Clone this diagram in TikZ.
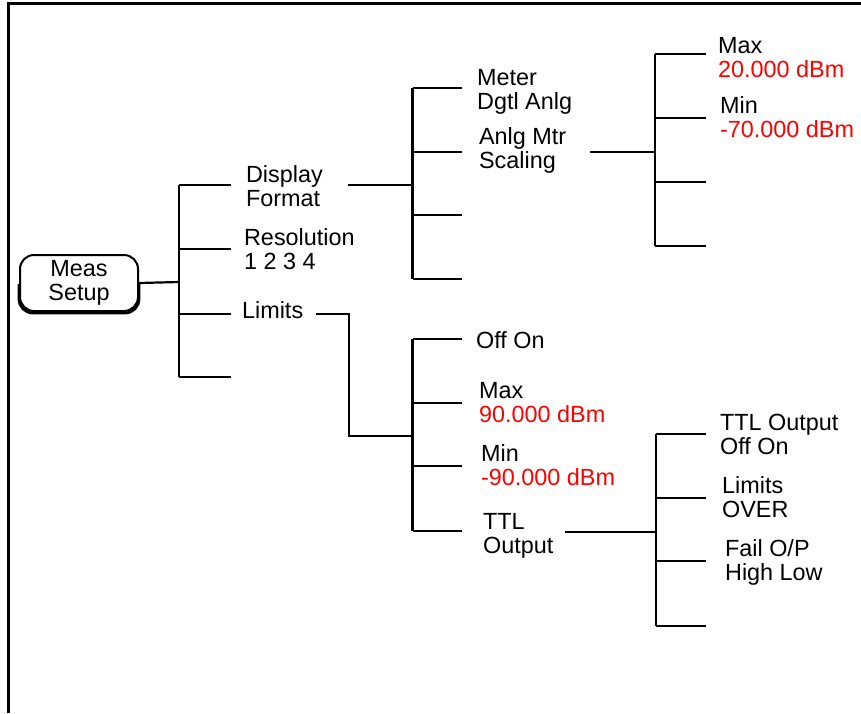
\documentclass[tikz,border=0pt]{standalone}
\usepackage{fontspec}
\setmainfont{Liberation Sans}
\usetikzlibrary{calc,positioning}

\tikzset{
  menulabel/.style={anchor=base west, inner sep=0pt, align=left,
    font=\fontsize{11.7}{12}\selectfont},
  softkey/.style={draw, line width=1pt, rounded corners=7pt,
    minimum width=59pt, minimum height=28pt, inner sep=0pt, align=center,
    font=\fontsize{11.7}{12}\selectfont},
}

\begin{document}
\begin{tikzpicture}[x=0.5pt, y=-0.5pt, line width=1.1pt]
  \useasboundingbox (0,0) rectangle (861,713);

  % Frame: top and left edges only
  \draw[line width=1.3pt] (8.5,713) -- (8.5,3.5) -- (861,3.5);

  % Meas Setup key, with a heavier lower rim
  \node[softkey] (meas) at (79,283) {Meas\\Setup};
  \draw[line width=1.4pt, rounded corners=7pt]
    ([yshift=-0.5pt]meas.west) |- ([yshift=-0.5pt]meas.south) -| ([yshift=-0.5pt]meas.east);

  % Joints between the levels
  \coordinate (stemA) at (179,282);
  \coordinate (dispout) at (348,185);
  \coordinate (stemB) at (412.5,185);
  \coordinate (scalout) at (590,152);
  \coordinate (stemC) at (655,152);
  \coordinate (limout) at (316,314);
  \coordinate (stemD) at (412.5,436);
  \coordinate (ttlout) at (565,532);
  \coordinate (stemE) at (656,532);

  % First level (labels sit on the baseline of their last line)
  \draw (meas.east) -- (stemA);
  \draw (179,185) -- (179,377);
  \foreach \y in {185,249,314,377}
    \draw (179,\y) -- (231,\y);
  \node[menulabel] (disp) at (245,206) {Display\\Format};
  \node[menulabel] (res) at (243,269) {Resolution\\1 2 3 4};
  \node[menulabel] (lim) at (241,318) {Limits};

  % Display Format branch
  \draw (dispout) -- (stemB);
  \draw (412.5,88) -- (412.5,279);
  \foreach \y in {88,152,215,279}
    \draw (412.5,\y) -- (462,\y);
  \node[menulabel] (meter) at (476,109) {Meter\\Dgtl Anlg};
  \node[menulabel] (scal) at (478,168) {Anlg Mtr\\Scaling};

  % Anlg Mtr Scaling branch
  \draw (scalout) -- (stemC);
  \draw (655,54) -- (655,246);
  \foreach \y in {54,118,182,246}
    \draw (655,\y) -- (706,\y);
  \node[menulabel] (maxA) at (717,77) {Max\\\textcolor{red}{20.000 dBm}};
  \node[menulabel] (minA) at (719,137) {Min\\\textcolor{red}{-70.000 dBm}};

  % Limits branch
  \draw (limout) -| (349,436) -- (stemD);
  \draw (412.5,339) -- (412.5,531);
  \foreach \y in {339,403,466,531}
    \draw (412.5,\y) -- (462,\y);
  \node[menulabel] (offon) at (475,348) {Off On};
  \node[menulabel] (maxB) at (478,422) {Max\\\textcolor{red}{90.000 dBm}};
  \node[menulabel] (minB) at (480,485) {Min\\\textcolor{red}{-90.000 dBm}};
  \node[menulabel] (ttl) at (482,553) {TTL\\Output};

  % TTL Output branch
  \draw (ttlout) -- (stemE);
  \draw (656,434) -- (656,626);
  \foreach \y in {434,498,561,626}
    \draw (656,\y) -- (706,\y);
  \node[menulabel] (ttlsw) at (719,454) {TTL Output\\Off On};
  \node[menulabel] (over) at (721,517) {Limits\\OVER};
  \node[menulabel] (fail) at (724,580) {Fail O/P\\High Low};
\end{tikzpicture}
\end{document}
